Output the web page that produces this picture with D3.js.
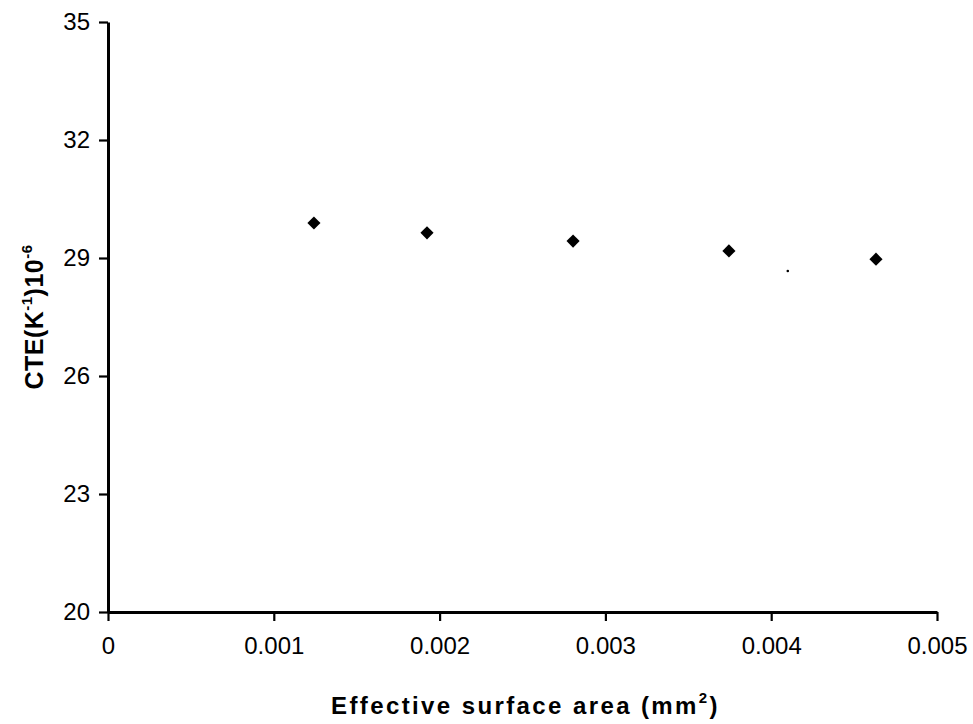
<!DOCTYPE html>
<html><head><meta charset="utf-8">
<script src="https://cdn.jsdelivr.net/npm/d3@7"></script>
<style>body{margin:0;background:#fff}svg{display:block}</style>
</head><body>
<script>
const areaX = [0.001242, 0.001924, 0.002805, 0.003745, 0.004632];
const cteY = [29.89, 29.64, 29.43, 29.18, 28.97];
const strayX = [0.0041];
const strayY = [28.67];
const xTicks = [0, 0.001, 0.002, 0.003, 0.004, 0.005];
const xTickLabels = ["0", "0.001", "0.002", "0.003", "0.004", "0.005"];
const yTicks = [20, 23, 26, 29, 32, 35];

const W = 973, H = 724;
const L = 108, T = 22, R = 937, B = 612;
const svg = d3.select("body").append("svg").attr("width", W).attr("height", H);
const x = d3.scaleLinear().domain([0, 0.005]).range([L, R]);
const y = d3.scaleLinear().domain([20, 35]).range([B, T]);
const font = "Liberation Sans, Arial, sans-serif";

const xa = svg.append("g").attr("transform", `translate(0,${B})`)
  .call(d3.axisBottom(x).tickValues(xTicks).tickFormat((d, i) => xTickLabels[i]).tickSize(9).tickPadding(16).tickSizeOuter(0));
const ya = svg.append("g").attr("transform", `translate(${L},0)`)
  .call(d3.axisLeft(y).tickValues(yTicks).tickSize(9).tickPadding(9).tickSizeOuter(0));
[xa, ya].forEach(a => {
  a.select(".domain").attr("stroke", "#000").attr("stroke-width", 3);
  a.selectAll(".tick line").attr("stroke", "#000").attr("stroke-width", 2.2);
  a.selectAll("text").attr("font-family", font).attr("font-size", 24).attr("fill", "#000");
});

svg.append("g").selectAll("path").data(areaX).join("path")
  .attr("transform", (d, i) => `translate(${x(d)},${y(cteY[i])})`)
  .attr("d", d3.symbol().type(d3.symbolDiamond2).size(110))
  .attr("fill", "#000");
svg.append("g").selectAll("circle").data(strayX).join("circle")
  .attr("cx", d => x(d)).attr("cy", (d, i) => y(strayY[i])).attr("r", 1.3).attr("fill", "#000");

const xt = svg.append("text").attr("x", (L + R) / 2 + 3).attr("y", 714)
  .attr("text-anchor", "middle").attr("font-family", font).attr("font-weight", "bold")
  .attr("font-size", 24).attr("letter-spacing", 2.4).attr("fill", "#000");
xt.append("tspan").text("Effective surface area (mm");
xt.append("tspan").attr("dy", -11).attr("font-size", 15).text("2");
xt.append("tspan").attr("dy", 11).text(")");

const yt = svg.append("text").attr("transform", `translate(43,${(T + B) / 2}) rotate(-90)`)
  .attr("text-anchor", "middle").attr("font-family", font).attr("font-weight", "bold")
  .attr("font-size", 25).attr("letter-spacing", 0.5).attr("fill", "#000");
yt.append("tspan").text("CTE(K");
yt.append("tspan").attr("dy", -11).attr("font-size", 15).text("-1");
yt.append("tspan").attr("dy", 11).text(")10");
yt.append("tspan").attr("dy", -11).attr("font-size", 15).text("-6");
</script>
</body></html>
